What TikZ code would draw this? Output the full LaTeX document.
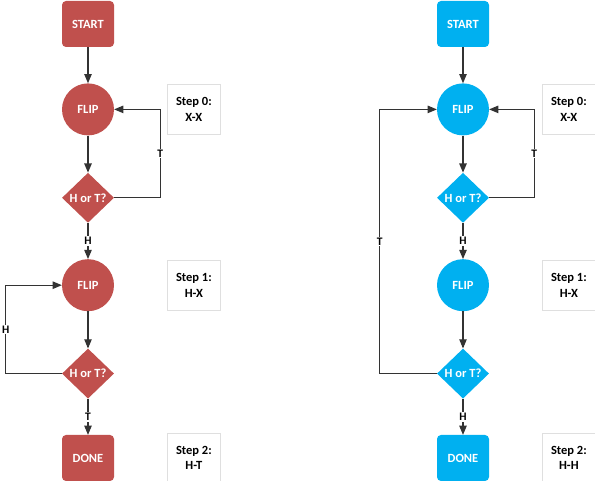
\documentclass[tikz,border=0pt]{standalone}
\usepackage{fontspec}
\setmainfont{Carlito}
\usepackage{tikz}
\usetikzlibrary{positioning}
\usetikzlibrary{arrows}
\usetikzlibrary{shapes.geometric}
\definecolor{flipred}{HTML}{C0504D}
\definecolor{flipblue}{HTML}{00B0F0}

\begin{document}
\begin{tikzpicture}[x=1pt, y=1pt, node distance=36pt, >=triangle 45,
endnode/.style={rectangle, rounded corners=4pt, fill=#1, text=white, minimum width=52pt, minimum height=46pt, font=\bfseries\fontsize{12.5}{14}\selectfont},
flipnode/.style={circle, fill=#1, text=white, minimum size=52pt, inner sep=0pt, font=\bfseries\fontsize{12.5}{14}\selectfont},
asknode/.style={diamond, fill=#1, text=white, minimum width=52pt, minimum height=50pt, inner sep=0pt, font=\bfseries\fontsize{12.5}{14}\selectfont},
stepbox/.style={rectangle, draw=gray!25, fill=white, minimum width=53pt, minimum height=50pt, align=center, font=\bfseries\fontsize{12.5}{15.5}\selectfont},
edgelabel/.style={fill=white, inner sep=1pt, font=\bfseries\fontsize{11.5}{13}\selectfont},
link/.style={->, line width=1.1pt, draw=black!80},
]
\useasboundingbox (0,0) rectangle (595,481);

%Nodes, red column
\node[endnode=flipred]   (startA)                         at (88,457) {START};
\node[flipnode=flipred]  (flipA)   [below=of startA]                  {FLIP};
\node[asknode=flipred]   (askA)    [below=37pt of flipA]              {H or T?};
\node[flipnode=flipred]  (flipA2)  [below=of askA]                    {FLIP};
\node[asknode=flipred]   (askA2)   [below=37pt of flipA2]             {H or T?};
\node[endnode=flipred]   (doneA)   [below=of askA2]                   {DONE};
\node[stepbox]           (stepA0)  [right=53pt of flipA]              {Step 0:\\X-X};
\node[stepbox]           (stepA1)  [right=53pt of flipA2]             {Step 1:\\H-X};
\node[stepbox]           (stepA2)  [right=53pt of doneA]              {Step 2:\\H-T};

%Nodes, blue column
\node[endnode=flipblue]  (startB)                         at (463,457) {START};
\node[flipnode=flipblue] (flipB)   [below=of startB]                  {FLIP};
\node[asknode=flipblue]  (askB)    [below=37pt of flipB]              {H or T?};
\node[flipnode=flipblue] (flipB2)  [below=of askB]                    {FLIP};
\node[asknode=flipblue]  (askB2)   [below=37pt of flipB2]             {H or T?};
\node[endnode=flipblue]  (doneB)   [below=of askB2]                   {DONE};
\node[stepbox]           (stepB0)  [right=53pt of flipB]              {Step 0:\\X-X};
\node[stepbox]           (stepB1)  [right=53pt of flipB2]             {Step 1:\\H-X};
\node[stepbox]           (stepB2)  [right=53pt of doneB]              {Step 2:\\H-H};

%Lines, red column
\draw[link] (startA) -- (flipA);
\draw[link] (flipA) -- (askA);
\draw[link] (askA) -- node[edgelabel] {H} (flipA2);
\draw[link] (askA.east) -- ++(46,0) |- node[edgelabel, pos=0.25] {T} (flipA.east);
\draw[link] (flipA2) -- (askA2);
\draw[link] (askA2.west) -- ++(-56,0) |- node[edgelabel, pos=0.25] {H} (flipA2.west);
\draw[link] (askA2) -- node[edgelabel] {T} (doneA);

%Lines, blue column
\draw[link] (startB) -- (flipB);
\draw[link] (flipB) -- (askB);
\draw[link] (askB) -- node[edgelabel] {H} (flipB2);
\draw[link] (askB.east) -- ++(45,0) |- node[edgelabel, pos=0.25] {T} (flipB.east);
\draw[link] (flipB2) -- (askB2);
\draw[link] (askB2.west) -- ++(-57,0) |- node[edgelabel, pos=0.25] {T} (flipB.west);
\draw[link] (askB2) -- node[edgelabel] {H} (doneB);
\end{tikzpicture}
\end{document}
